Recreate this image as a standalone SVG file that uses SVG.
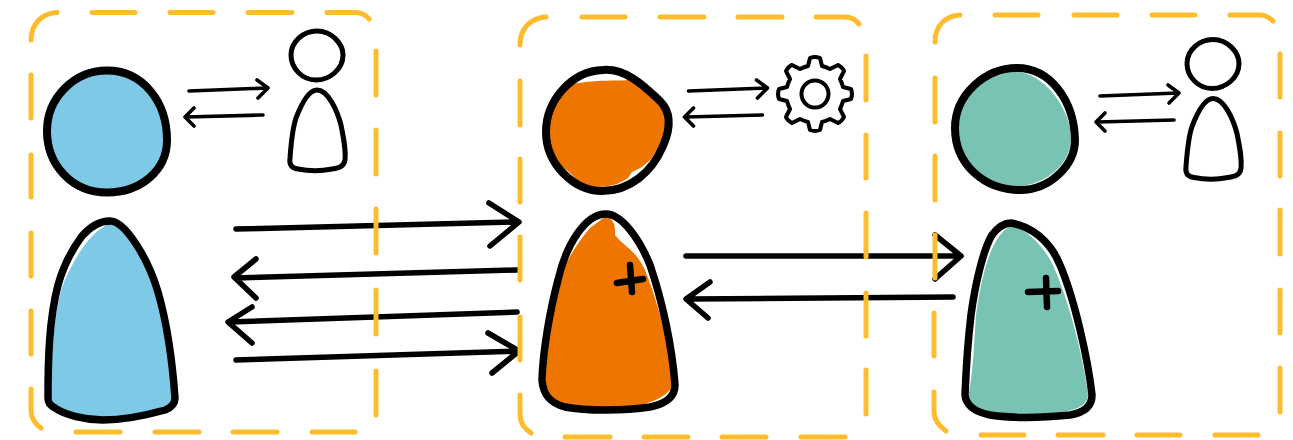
<svg xmlns="http://www.w3.org/2000/svg" width="1293" height="440" viewBox="0 0 1293 440">
<style>
.o{fill:none;stroke:#000;stroke-linecap:round;stroke-linejoin:round}
.h{stroke-width:8}.b{stroke-width:7.5}.s{stroke-width:5}
.a{stroke-width:5.5}.t{stroke-width:3.6}.p{stroke-width:6.5}.g{stroke-width:4}
.d{fill:none;stroke:#fdbb2d;stroke-width:5;stroke-linecap:round}
.blue{fill:#7ec9e5}.orange{fill:#ee7502}.teal{fill:#78c3b3}
</style>
<defs>
<filter id="soft" x="-2%" y="-2%" width="104%" height="104%"><feGaussianBlur stdDeviation="0.7"/></filter>
<g id="person"><path class="o s" d="M317 31C332 31 343 44 343 55C343 69 330 80 316 80C302 80 291 68 291 55C291 42 303 31 317 31Z"/><path class="o s" d="M317 90C328 90 337 110 341 125C344 140 346 150 345 160C344 166 340 168 332 169C322 171 308 171 298 169C292 168 289 165 290 158C291 145 292 130 296 118C301 105 308 90 317 90Z"/></g>
<g id="small-arrows"><path class="o t" d="M189 91L267 88M257 80L268 88L258 98M263 115L186 117M194 108L185 117L194 126"/></g>
</defs>
<g filter="url(#soft)">
<rect width="1293" height="440" fill="#fff"/>
<g id="agent-blue">
<path class="blue" d="M107 72C140 72 165 100 165 135C165 170 140 191 107 191C72 191 48 168 48 133C48 100 72 72 107 72Z"/>
<path class="o h" d="M107 70.500C143 70.500 167 102 167 140C167 171 140 192.500 107 192.500C72 192.500 47 165 47 131C47 98 74 70.500 107 70.500Z"/>
<path class="blue" d="M110 224C122 224 146 262 157 297C167 330 172 370 173 400C168 406 150 414 103 418C85 418 60 412 51 404C51 360 53 320 62 287C72 262 90 230 110 224Z"/>
<path class="o b" d="M110 221C125 221 148 258 158 292C169 330 173 370 175 398C175 405 170 408 165 410C140 417 120 420 103 420C85 420 65 415 55 408C50 405 48 403 48 398C48 360 49 320 58 285C64 264 73 248 82 236C90 227 100 221 110 221Z"/>
</g>
<g id="human-1"><use href="#person"/></g>
<g id="agent-orange">
<path class="orange" d="M570 85C590 79 625 81 640 80C652 95 670 110 666 125C661 150 650 165 632 172L628 178C615 188 590 190 578 182C570 170 560 168 552 155C545 130 550 100 570 85Z"/>
<path class="o h" d="M603 70C628 68 648 90 660 101C672 113 670 130 663 146C652 172 630 191 602 191C575 191 546 165 546 132C546 100 572 71 603 70Z"/>
<path class="orange" d="M606 216C612 218 616 224 615 235C622 245 636 250 645 270C657 300 670 345 673 385C666 400 640 408 606 409C575 409 556 405 546 395C545 370 548 330 553 300C560 270 575 245 590 228Z"/>
<path class="o b" d="M606 214C622 214 640 240 650 265C662 300 672 345 675 385C675 398 665 404 650 407C625 411 585 411 565 407C550 403 543 395 542 380C543 350 550 310 558 280C566 245 585 214 606 214Z"/>
<path class="o p" d="M617 283L643 279M630 265L632 292"/>
</g>
<g id="gear">
<path class="o g" transform="translate(815 94)" d="M36 -5Q38 0 36 5L28 7C27 11 26 13 25 15L29 23Q26 28 23 29L15 25C13 26 11 27 7 28L5 36Q0 38 -5 36L-7 28C-11 27 -13 26 -15 25L-23 29Q-28 26 -29 23L-25 15C-26 13 -27 11 -28 7L-36 5Q-38 0 -36 -5L-28 -7C-27 -11 -26 -13 -25 -15L-29 -23Q-26 -28 -23 -29L-15 -25C-13 -26 -11 -27 -7 -28L-5 -36Q0 -38 5 -36L7 -28C11 -27 13 -26 15 -25L23 -29Q28 -26 29 -23L25 -15C26 -13 27 -11 28 -7Z"/>
<circle class="o g" cx="815" cy="94" r="13.5"/>
</g>
<g id="agent-teal">
<path class="teal" d="M1017 72C1040 72 1071 105 1071 140C1070 165 1045 184 1020 186C985 187 958 160 958 128C958 100 985 72 1017 72Z"/>
<path class="o h" d="M1017 68C1050 68 1074 100 1075 140C1075 165 1050 190 1020 190C985 190 955 165 955 128C955 95 985 68 1017 68Z"/>
<path class="teal" d="M1011 226C1025 228 1045 245 1055 270C1068 300 1082 350 1088 395C1087 410 1070 414 1007 415C985 415 972 410 968 398C973 375 974 345 976 315C981 280 990 235 1011 226Z"/>
<path class="o b" d="M1011 223C1030 226 1050 240 1060 265C1075 300 1088 360 1092 395C1092 408 1082 413 1070 415C1040 418 1010 418 990 415C975 412 966 405 965 395C966 370 968 340 971 315C975 285 983 250 992 235C998 227 1004 223 1011 223Z"/>
<path class="o p" d="M1028 292L1058 291M1046 278L1047 307"/>
</g>
<g id="human-2"><use href="#person" transform="translate(896 8.5)"/></g>
<g id="connectors">
<use href="#small-arrows"/>
<use href="#small-arrows" transform="translate(499.5 0)"/>
<use href="#small-arrows" transform="translate(911 5)"/>
<path class="o a" d="M236 229L518 222M489 203L519 222L490 246"/>
<path class="o a" d="M517 270L236 278M256 259L234 277L256 298"/>
<path class="o a" d="M517 312L230 322M252 307L228 322L252 343"/>
<path class="o a" d="M236 360L518 351M488 333L519 351L492 373"/>
<path class="o a" d="M686 256L959 256M935 235L961 256L935 279"/>
<path class="o a" d="M953 297L688 299M710 282L686 299L708 318"/>
</g>
<g id="box-1"><path class="d" d="M31 40C31 24 42 13 57 12.500M92 12.500H135M170 12.500H213M248 12.500H292M327 12.500H355C362 12.500 366 15 369 19M376 51V95M376 130V174M376 209V253M376 290V334M376 371V415M31 75V118M31 155V197M31 233V276M31 311V354M31 389V410C31 418 35 424 41 428M76 432H120M155 432H199M233 432H277M312 432H355"/></g>
<g id="box-2"><path class="d" d="M520 45C520 28 531 18 546 17M582 17H625M660 17H704M738 17H782M816 17H845C852 17 856 20 859 24M866 56V100M866 135V178M866 213V257M866 293V336M866 370V414M520 81V125M520 159V202M520 237V280M520 317V360M520 395V415C520 423 525 429 531 433M565 437H610M644 437H688M722 437H766M801 437H845"/></g>
<g id="box-3"><path class="d" d="M935 42C935 26 945 16 960 15M995 15H1038M1074 15H1117M1152 15H1195M1230 15H1260C1266 15 1270 18 1273 21M1280 54V97M1280 133V176M1280 210V254M1280 290V333M1280 368V412M935 78V122M935 156V200M935 235V278M934 313V356M934 392V412C934 420 939 426 946 431M981 435H1024M1058 435H1103M1137 435H1180M1215 435H1258"/></g>
</g>
</svg>
